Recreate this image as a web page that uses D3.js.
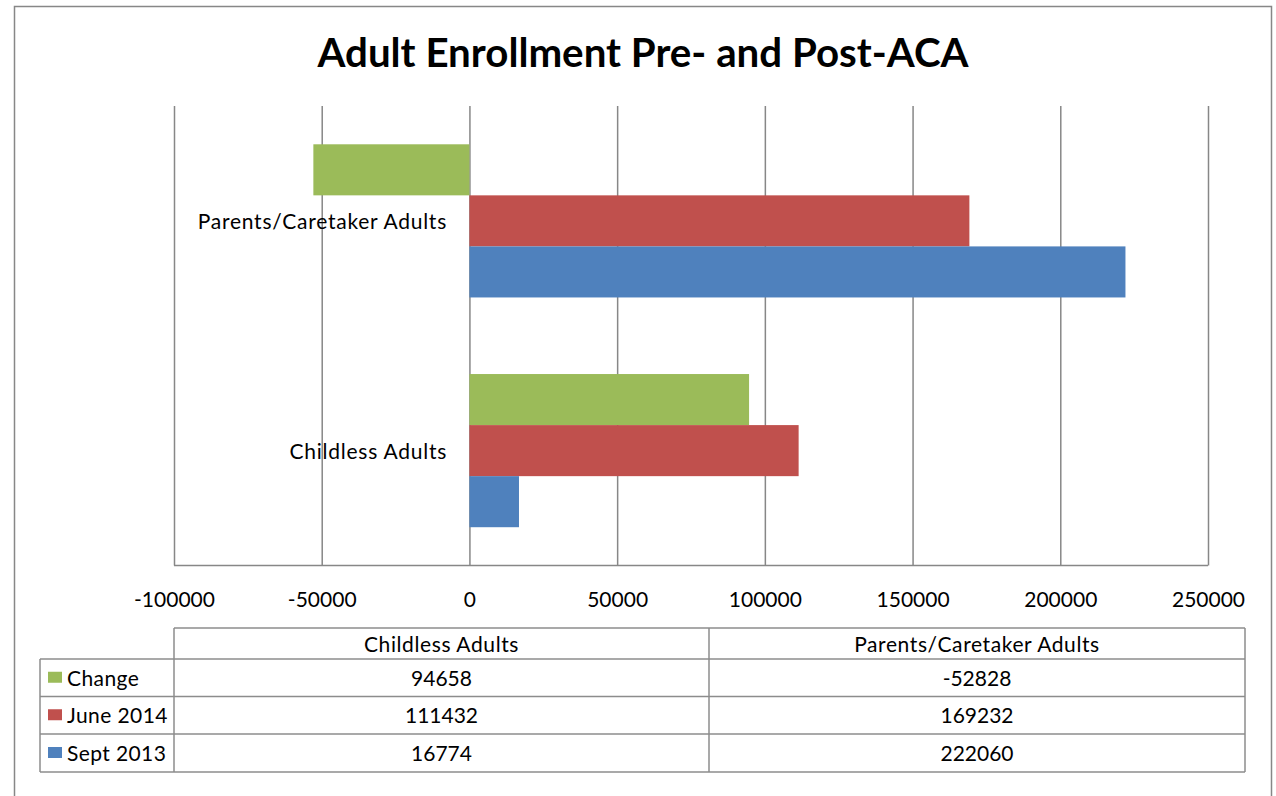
<!DOCTYPE html>
<html><head><meta charset="utf-8">
<script src="https://cdn.jsdelivr.net/npm/d3@7"></script>
<style>
html,body{margin:0;padding:0;background:#fff;}
svg{display:block;font-family:Lato, "Open Sans", sans-serif;}
</style></head>
<body>
<svg id="chart" width="1276" height="796"></svg>
<script>
const title = "Adult Enrollment Pre- and Post-ACA";
const categories = ["Parents/Caretaker Adults", "Childless Adults"];
const tableCategories = ["Childless Adults", "Parents/Caretaker Adults"];
const seriesNames = ["Change", "June 2014", "Sept 2013"];
const seriesColors = ["#9BBB59", "#C0504D", "#4F81BD"];
// values indexed by category in `categories` order
const changeValues = [-52828, 94658];
const june2014Values = [169232, 111432];
const sept2013Values = [222060, 16774];
const tickValues = [-100000, -50000, 0, 50000, 100000, 150000, 200000, 250000];

const seriesValues = [changeValues, june2014Values, sept2013Values];
const svg = d3.select("#chart");
const gridColor = "#878787";

// outer border
svg.append("rect").attr("x", 14.5).attr("y", 6.5).attr("width", 1257).attr("height", 800)
  .attr("fill", "none").attr("stroke", gridColor).attr("stroke-width", 1.5);

// title
svg.append("text").attr("x", 643).attr("y", 67).attr("text-anchor", "middle")
  .attr("font-weight", "bold").attr("font-size", 41).attr("fill", "#000")
  .attr("textLength", 651).attr("lengthAdjust", "spacingAndGlyphs").text(title);

const plotTop = 106, plotBottom = 565.5;
const x = d3.scaleLinear().domain([-100000, 250000]).range([174, 1208]);
const y = d3.scaleBand().domain(categories).range([plotTop, plotBottom]).paddingInner(1/3).paddingOuter(1/6);
const ySub = d3.scaleBand().domain(seriesNames).range([0, y.bandwidth()]);

// gridlines
const grid = svg.append("g").attr("transform", `translate(0,${plotTop})`)
  .call(d3.axisBottom(x).tickValues(tickValues).tickSize(plotBottom - plotTop).tickFormat(""));
grid.select(".domain").remove();
grid.selectAll("line").attr("stroke", gridColor).attr("stroke-width", 1.5);

// bottom axis line
svg.append("line").attr("x1", x(-100000)).attr("x2", x(250000)).attr("y1", plotBottom).attr("y2", plotBottom)
  .attr("stroke", gridColor).attr("stroke-width", 1.5);

// bars
seriesNames.forEach((s, si) => {
  svg.append("g").selectAll("rect").data(categories).join("rect")
    .attr("x", (c, ci) => x(Math.min(0, seriesValues[si][ci])))
    .attr("width", (c, ci) => Math.abs(x(seriesValues[si][ci]) - x(0)))
    .attr("y", c => y(c) + ySub(s))
    .attr("height", ySub.bandwidth())
    .attr("fill", seriesColors[si]);
});

// tick labels
const axis = svg.append("g").attr("transform", `translate(0,${plotBottom})`)
  .call(d3.axisBottom(x).tickValues(tickValues).tickSize(0).tickPadding(0).tickFormat(d => String(d)));
axis.select(".domain").remove();
axis.selectAll("text").attr("font-family", "Lato").attr("font-size", 21).attr("fill", "#000")
  .attr("dy", null).attr("y", 41);

// category labels
svg.append("g").selectAll("text").data(categories).join("text")
  .attr("x", 447).attr("y", c => y(c) + y.bandwidth() / 2 + 8)
  .attr("text-anchor", "end").attr("font-size", 21).attr("letter-spacing", 0.75)
  .attr("fill", "#000").text(c => c);

// data table
const tX = [40, 174, 709, 1245];
const tY = [628, 659, 696.5, 734, 772];
const tbl = svg.append("g").attr("stroke", "#8c8c8c").attr("stroke-width", 1.5);
tbl.append("line").attr("x1", tX[1]).attr("x2", tX[3]).attr("y1", tY[0]).attr("y2", tY[0]);
[1, 2, 3, 4].forEach(i => tbl.append("line").attr("x1", tX[0]).attr("x2", tX[3]).attr("y1", tY[i]).attr("y2", tY[i]));
tbl.append("line").attr("x1", tX[0]).attr("x2", tX[0]).attr("y1", tY[1]).attr("y2", tY[4]);
[1, 2, 3].forEach(i => tbl.append("line").attr("x1", tX[i]).attr("x2", tX[i]).attr("y1", tY[0]).attr("y2", tY[4]));

const colCenter = c => (tX[1 + tableCategories.indexOf(c)] + tX[2 + tableCategories.indexOf(c)]) / 2;
svg.append("g").selectAll("text").data(tableCategories).join("text")
  .attr("x", c => colCenter(c)).attr("y", (tY[0] + tY[1]) / 2 + 8)
  .attr("text-anchor", "middle").attr("font-size", 21).attr("letter-spacing", 0.6)
  .attr("fill", "#000").text(c => c);

seriesNames.forEach((s, si) => {
  const cy = (tY[si + 1] + tY[si + 2]) / 2;
  svg.append("rect").attr("x", 48).attr("y", cy - 6).attr("width", 14).attr("height", 11).attr("fill", seriesColors[si]);
  svg.append("text").attr("x", 67).attr("y", cy + 8).attr("font-size", 21).attr("letter-spacing", 0.4)
    .attr("fill", "#000").text(s);
  tableCategories.forEach(c => {
    const ci = categories.indexOf(c);
    svg.append("text").attr("x", colCenter(c)).attr("y", cy + 8).attr("text-anchor", "middle")
      .attr("font-size", 21).attr("fill", "#000").text(seriesValues[si][ci]);
  });
});
</script>
</body></html>
